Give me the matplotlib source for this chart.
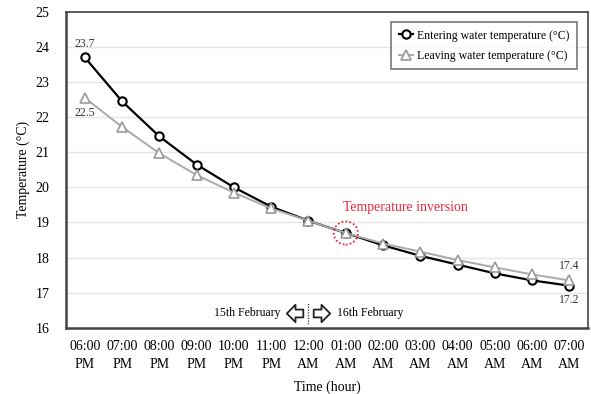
import numpy as np
import matplotlib.pyplot as plt
from matplotlib.patches import Ellipse
from matplotlib.path import Path

plt.rcParams['font.family'] = ['Liberation Serif', 'DejaVu Serif']

hours = ["06:00\nPM", "07:00\nPM", "08:00\nPM", "09:00\nPM", "10:00\nPM", "11:00\nPM",
         "12:00\nAM", "01:00\nAM", "02:00\nAM", "03:00\nAM", "04:00\nAM", "05:00\nAM",
         "06:00\nAM", "07:00\nAM"]
entering = [23.7, 22.45, 21.45, 20.65, 20.0, 19.45, 19.05, 18.7, 18.35, 18.05, 17.8, 17.55, 17.35, 17.2]
leaving = [22.55, 21.72, 20.97, 20.35, 19.85, 19.4, 19.05, 18.7, 18.4, 18.17, 17.93, 17.72, 17.52, 17.35]

x = np.arange(len(hours))

fig = plt.figure(figsize=(5.91, 3.94), dpi=100)
ax = fig.add_axes([0.112, 0.168, 0.883, 0.802])

ax.plot(x, entering, color='black', lw=1.6, marker='o', ms=6, mfc='white', mec='black',
        mew=1.5, label='Entering water temperature (°C)', zorder=3)
ax.plot(x, leaving, color='#aaaaaa', lw=1.4, marker='^', ms=6.5, mfc='white', mec='#999999',
        mew=1.2, label='Leaving water temperature (°C)', zorder=4)

ax.set_xlim(-0.5, len(hours) - 0.5)
ax.set_ylim(16, 25)
ax.set_yticks(range(16, 26))
ax.set_xticks(x)
ax.set_xticklabels(hours, fontsize=10, linespacing=1.45)
ax.tick_params(axis='y', labelsize=10, pad=12)
ax.tick_params(axis='x', pad=9)
ax.tick_params(length=0)
ax.grid(axis='y', color='#e6e6e6', lw=1)
ax.set_axisbelow(True)
for s in ax.spines.values():
    s.set_color('#444444')
    s.set_linewidth(1.2)
ax.spines['left'].set_linewidth(1.8)
ax.spines['bottom'].set_linewidth(1.8)

ax.set_ylabel('Temperature (°C)', fontsize=10, labelpad=4)
ax.set_xlabel('Time (hour)', fontsize=10, labelpad=7)

# value labels
ax.text(x[0], entering[0] + 0.2, '23.7', ha='center', va='bottom', fontsize=8.5, color='#333333')
ax.text(x[0], leaving[0] - 0.25, '22.5', ha='center', va='top', fontsize=8.5, color='#333333')
ax.text(x[-1], leaving[-1] + 0.25, '17.4', ha='center', va='bottom', fontsize=8.5, color='#333333')
ax.text(x[-1], entering[-1] - 0.25, '17.2', ha='center', va='top', fontsize=8.5, color='#333333')

# temperature inversion
ax.text(8.6, 19.25, 'Temperature inversion', ha='center', va='bottom', fontsize=10, color='#e8283c')
ax.add_patch(Ellipse((7, 18.7), 0.65, 0.66, fill=False, ec='#e8283c', ls=(0, (1, 1.2)), lw=1.3, zorder=5))

# day divider with hollow arrows
left_arrow = Path([(-1, 0), (0, 1), (0, 0.45), (0.9, 0.45), (0.9, -0.45), (0, -0.45), (0, -1), (-1, 0)],
                  [Path.MOVETO] + [Path.LINETO] * 6 + [Path.CLOSEPOLY])
right_arrow = Path([(1, 0), (0, 1), (0, 0.45), (-0.9, 0.45), (-0.9, -0.45), (0, -0.45), (0, -1), (1, 0)],
                   [Path.MOVETO] + [Path.LINETO] * 6 + [Path.CLOSEPOLY])
ax.text(5.25, 16.42, '15th February', ha='right', va='center', fontsize=8.5)
ax.plot([5.63], [16.42], marker=left_arrow, ms=12.5, mfc='white', mec='#222222', mew=1.3)
ax.plot([5.98, 5.98], [16.12, 16.72], color='#333333', lw=0.9, ls=(0, (1, 1.2)))
ax.plot([6.33], [16.42], marker=right_arrow, ms=12.5, mfc='white', mec='#222222', mew=1.3)
ax.text(6.76, 16.42, '16th February', ha='left', va='center', fontsize=8.5)

leg = ax.legend(loc='upper right', fontsize=8.5, frameon=True, fancybox=False,
                edgecolor='#555555', handlelength=1.2, handletextpad=0.4, borderpad=0.6,
                labelspacing=0.75, bbox_to_anchor=(0.99, 0.985))
leg.get_frame().set_linewidth(1.2)

plt.savefig('out.png', dpi=100)
